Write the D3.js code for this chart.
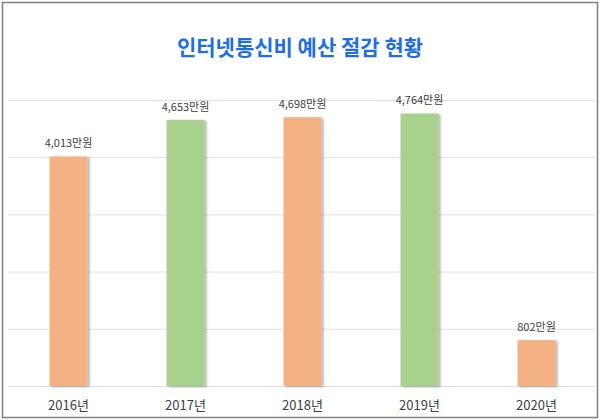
<!DOCTYPE html>
<html><head><meta charset="utf-8">
<script src="https://cdn.jsdelivr.net/npm/d3@7"></script>
<style>body{margin:0;background:#fff;font-family:"Noto Sans CJK KR","Noto Sans",sans-serif;}</style>
</head><body>
<script>
var w = 600, h = 420;
var years = ["2016년", "2017년", "2018년", "2019년", "2020년"];
var budget = [4013, 4653, 4698, 4764, 802];
var barColors = ["#f4b183", "#a9d18e", "#f4b183", "#a9d18e", "#f4b183"];
var gridTicks = [0, 1000, 2000, 3000, 4000, 5000];

var svg = d3.select("body").append("svg").attr("width", w).attr("height", h);

//drop shadow for bars
var f = svg.append("defs").append("filter").attr("id", "sh")
    .attr("x", "-20%").attr("width", "150%");
f.append("feDropShadow").attr("dx", 2).attr("dy", 1).attr("stdDeviation", 1.2)
    .attr("flood-color", "#000").attr("flood-opacity", 0.3);

svg.append("rect").attr("x", 2.5).attr("y", 2.5).attr("width", w - 5).attr("height", h - 5)
    .style("fill", "#fff").style("stroke", "#7f7f7f").style("stroke-width", 1.5);

var x = d3.scaleBand().domain(years).range([10, 595])
    .paddingInner(0.675).paddingOuter(0.3375);
var y = d3.scaleLinear().domain([0, 5000]).range([386, 100]);

svg.selectAll(".grid").data(gridTicks).enter().append("line")
    .attr("x1", 8).attr("x2", 595)
    .attr("y1", function(d){ return y(d) + 0.5; })
    .attr("y2", function(d){ return y(d) + 0.5; })
    .style("stroke", "#e0e0e0");

svg.selectAll(".bar").data(budget).enter().append("rect")
    .attr("x", function(d, i){ return x(years[i]); })
    .attr("y", function(d){ return y(d); })
    .attr("width", x.bandwidth())
    .attr("height", function(d){ return y(0) - y(d); })
    .attr("filter", "url(#sh)")
    .style("fill", function(d, i){ return barColors[i]; });

var format = d3.format(",");
svg.selectAll(".val").data(budget).enter().append("text")
    .attr("x", function(d, i){ return x(years[i]) + x.bandwidth() / 2; })
    .attr("y", function(d){ return y(d) - 9; })
    .attr("text-anchor", "middle")
    .style("font-size", "11px").style("fill", "#404040")
    .text(function(d){ return format(d) + "만원"; });

svg.selectAll(".xl").data(years).enter().append("text")
    .attr("x", function(d){ return x(d) + x.bandwidth() / 2; })
    .attr("y", 410)
    .attr("text-anchor", "middle")
    .style("font-size", "13px").style("fill", "#404040")
    .text(function(d){ return d; });

svg.append("text").attr("x", 300).attr("y", 55).attr("text-anchor", "middle")
    .style("font-size", "21px").style("font-weight", "bold").style("fill", "#1f6fe0")
    .text("인터넷통신비 예산 절감 현황");
</script>
</body></html>
